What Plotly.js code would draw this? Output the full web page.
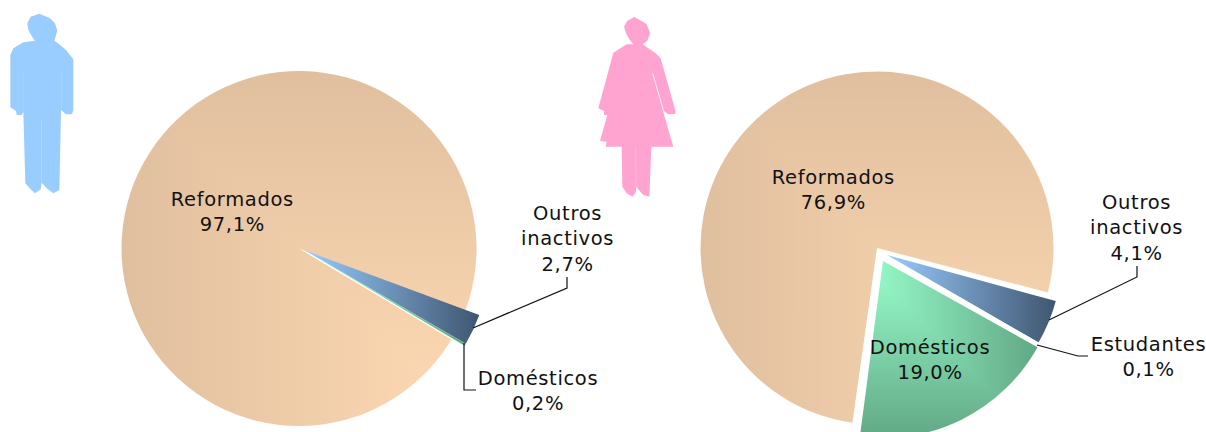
<!DOCTYPE html>
<html><head><meta charset="utf-8">
<script src="https://cdn.plot.ly/plotly-3.0.1.min.js"></script>
<style>html,body{margin:0;padding:0;background:#fff;overflow:hidden;width:1206px;height:432px}#c{width:1206px;height:460px}
.annotation text{letter-spacing:0.65px}</style>
</head><body><div id="c"></div>
<script>
// ---- data ----
const menCategories = ["Reformados", "Outros inactivos", "Domésticos"];
const menValues = [97.1, 2.7, 0.2];
const womenCategories = ["Reformados", "Outros inactivos", "Estudantes", "Domésticos"];
const womenValues = [76.9, 4.1, 0.1, 19.0];
const menLabels = ["Reformados<br>97,1%", "Outros<br>inactivos<br>2,7%", "Domésticos<br>0,2%"];
const womenLabels = ["Reformados<br>76,9%", "Outros<br>inactivos<br>4,1%", "Estudantes<br>0,1%", "Domésticos<br>19,0%"];

// ---- layout helpers (pixels on a 1206x460 page, clipped at 432) ----
const W = 1206, H = 460;
const px = x => x / W, py = y => 1 - y / H;
const dom = (cx, cy, r) => ({x: [px(cx - r), px(cx + r)], y: [py(cy + r), py(cy - r)]});
const T = 'rgba(0,0,0,0)';
const fills = {"Reformados": "#E8C8A8", "Outros inactivos": "#6F8FB5", "Domésticos": "#7CCBA3", "Estudantes": "#FFFFFF"};

function slices(cats, vals, show, rotation, d) {
  return {type: 'pie', labels: cats, values: vals, sort: false, direction: 'clockwise', rotation,
    domain: d, textinfo: 'none', hoverinfo: 'skip', showlegend: false,
    marker: {colors: cats.map(c => show.includes(c) ? fills[c] : T), line: {width: 0}}};
}
const data = [
  slices(menCategories, menValues, ["Reformados"], 120.8, dom(299, 248.5, 177.5)),
  slices(menCategories, menValues, ["Outros inactivos", "Domésticos"], 120.8, dom(304, 250, 187)),
  slices(womenCategories, womenValues, ["Reformados"], 188, dom(877, 248, 176.5)),
  slices(womenCategories, womenValues, ["Outros inactivos", "Estudantes"], 188.7, dom(887, 255, 175)),
  slices(womenCategories, womenValues, ["Domésticos"], 187.5, dom(883, 261, 177))
];

function note(text, x, y) {
  return {text, x: px(x), y: py(y), xref: 'paper', yref: 'paper', xanchor: 'center', yanchor: 'middle',
    showarrow: false, align: 'center', font: {family: '"DejaVu Sans", Verdana, sans-serif', size: 19.5, color: '#111'}};
}
const annotations = [
  note(menLabels[0], 232, 211.5), note(menLabels[1], 567, 239), note(menLabels[2], 538, 391),
  note(womenLabels[0], 833, 190), note(womenLabels[1], 1136.5, 228), note(womenLabels[2], 1148, 357), note(womenLabels[3], 930, 360)
];

function pathOf(pts, close) {
  return pts.map((p, i) => (i ? 'L' : 'M') + px(p[0]) + ',' + py(p[1])).join(' ') + (close ? ' Z' : '');
}
function leader(pts) {
  return {type: 'path', xref: 'paper', yref: 'paper', path: pathOf(pts), line: {color: '#111', width: 1.2}};
}
function figure(zoomPts, ox, oy, color) {
  return {type: 'path', xref: 'paper', yref: 'paper', fillcolor: color, line: {width: 0}, layer: 'above',
    path: pathOf(zoomPts.map(p => [ox + p[0] / 3, oy + p[1] / 3]), true)};
}
function seam(zoomPts, ox, oy, color) {
  return {type: 'path', xref: 'paper', yref: 'paper', layer: 'above', line: {color, width: 0.8},
    path: pathOf(zoomPts.map(p => [ox + p[0] / 3, oy + p[1] / 3]))};
}
const manOutline = [[82,70],[92,50],[118,41],[150,55],[165,70],[172,92],[163,122],[172,128],[198,150],[220,178],[220,330],[216,343],[198,343],[183,330],[178,570],[160,580],[140,565],[125,548],[122,568],[105,580],[92,568],[76,550],[70,335],[65,345],[50,345],[48,333],[31,322],[31,165],[40,145],[70,127],[105,122],[95,108],[85,90]];
const womanOutline = [[102,50],[112,32],[133,21],[170,42],[180,70],[172,92],[158,103],[195,128],[212,145],[257,305],[255,312],[235,313],[218,300],[250,410],[184,410],[178,560],[160,555],[138,530],[138,545],[128,560],[110,550],[97,530],[95,410],[47,410],[50,395],[30,393],[52,315],[42,315],[42,303],[25,295],[70,128],[110,103],[130,103],[118,88],[108,70]];

const shapes = [
  leader([[473,328],[567,288],[567,277]]),
  leader([[464,343],[464,390],[476,390]]),
  leader([[1049,320],[1137,277],[1137,266]]),
  leader([[1037,345],[1078,356],[1088,356]]),
  figure(manOutline, 0, 0, '#99CCFF'),
  seam([[124,360],[124,548]], 0, 0, '#B5DAFF'),
  seam([[70,210],[70,335]], 0, 0, '#A8D3FF'),
  seam([[185,210],[184,330]], 0, 0, '#A8D3FF'),
  figure(womanOutline, 590, 10, '#FFA3D1'),
  seam([[188,190],[220,300]], 590, 10, '#FFFFFF'),
  seam([[137,410],[138,530]], 590, 10, '#FFC0DF')
];

const layout = {width: W, height: H, margin: {l: 0, r: 0, t: 0, b: 0, pad: 0}, paper_bgcolor: '#fff', showlegend: false, annotations, shapes};

// ---- gradient fills ----
const NS = 'http://www.w3.org/2000/svg';
function el(name, attrs, kids) {
  const e = document.createElementNS(NS, name);
  for (const k in attrs) e.setAttribute(k, attrs[k]);
  (kids || []).forEach(c => e.appendChild(c));
  return e;
}
function lin(id, x2, y2, c1, c2) {
  return el('linearGradient', {id, x1: 0, y1: 0, x2, y2}, [
    el('stop', {offset: '0', 'stop-color': c1}), el('stop', {offset: '1', 'stop-color': c2})]);
}
function corner(id, bright, dark, fromBottomRight) {
  const c1 = fromBottomRight ? dark : bright, c2 = fromBottomRight ? bright : dark;
  const tri = fromBottomRight ? '0,0 0,1 1,1' : '0,0 1,0 1,1';
  return [lin(id + 'h', 1, 0, c1, c2), lin(id + 'v', 0, 1, c1, c2),
    el('pattern', {id, patternUnits: 'objectBoundingBox', patternContentUnits: 'objectBoundingBox', x: 0, y: 0, width: 1, height: 1}, [
      el('rect', {x: 0, y: 0, width: 1, height: 1, fill: 'url(#' + id + 'v)'}),
      el('polygon', {points: tri, fill: 'url(#' + id + 'h)'})])];
}
Plotly.newPlot('c', data, layout, {displayModeBar: false, staticPlot: true}).then(gd => {
  const svg = gd.querySelector('svg.main-svg');
  const defs = el('defs', {}, [
    ...corner('gRef', '#FFDBB3', '#E0BF9F', true),
    ...corner('gDom', '#99FFCC', '#62A886', false),
    lin('gOut', 1, 0, '#99CCFF', '#3F5670')
  ]);
  svg.insertBefore(defs, svg.firstChild);
  const ids = {"Reformados": 'gRef', "Outros inactivos": 'gOut', "Domésticos": 'gDom'};
  gd.querySelectorAll('.pielayer .trace').forEach((tr, i) => {
    const cats = data[i].labels, cols = data[i].marker.colors;
    tr.querySelectorAll('.slice path.surface').forEach((p, j) => {
      if (cols[j] !== T && ids[cats[j]]) p.style.fill = 'url(#' + ids[cats[j]] + ')';
    });
  });
});
</script></body></html>
